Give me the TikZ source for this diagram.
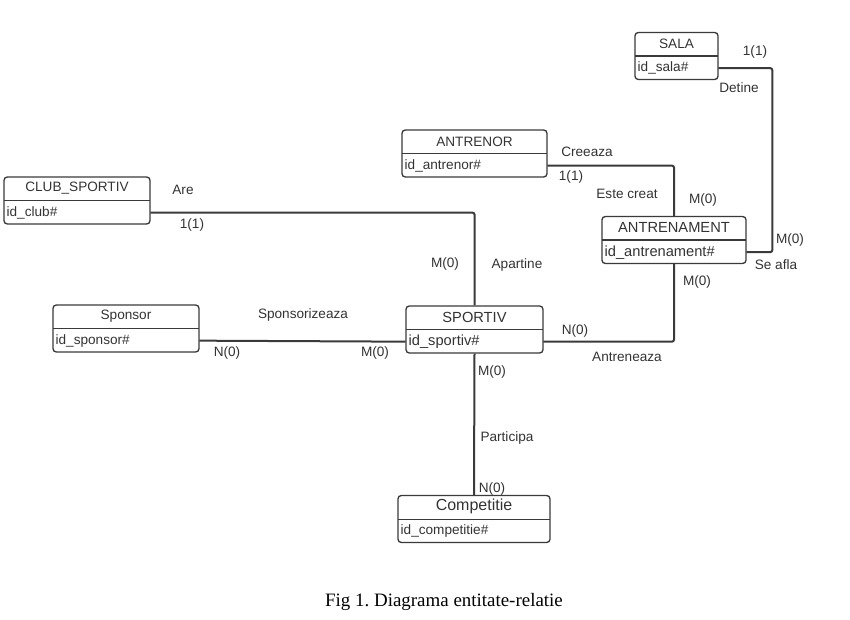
\documentclass[tikz,border=0pt]{standalone}
\usepackage{fontspec}
\setmainfont{Liberation Sans}
\newfontfamily\capfont{Liberation Serif}
\usetikzlibrary{positioning, calc}

\definecolor{inkgray}{HTML}{333333}
\definecolor{linegray}{HTML}{3A3A3A}

\newcommand{\entbig}{\fontsize{11}{13}\selectfont}
\newcommand{\entbigger}{\fontsize{12}{14}\selectfont}

% entity: name, x, y, width (px), title, key
\newcommand{\entity}[6]{%
  \node[entbox, minimum width={#4*0.75pt}] (#1) at (#2,#3) {};
  \node[enttitle, minimum width={#4*0.75pt}, anchor=north] (#1-t) at (#1.north) {#5};
  \node[entkey, text width={#4*0.75pt-4pt}, anchor=south] (#1-k) at (#1.south) {#6};
  \draw[entline] (#1-k.north west) -- (#1-k.north east);
}

\begin{document}
\begin{tikzpicture}[
    x=0.75pt, y=-0.75pt,
    every node/.style={text=inkgray, font=\fontsize{10.2}{12}\selectfont},
    entbox/.style={rectangle, rounded corners=2.5pt, draw=linegray, line width=1pt, minimum height=35.25pt, inner sep=0pt},
    enttitle/.style={minimum height=17.6pt, inner sep=0pt, text centered},
    entkey/.style={minimum height=17.6pt, inner xsep=2pt, inner ysep=0pt, align=left},
    entline/.style={draw=linegray, line width=1pt},
    link/.style={draw=linegray, line width=1.5pt, rounded corners=1.5pt},
    rel/.style={inner sep=1pt, yshift=-1.2pt}
]
\useasboundingbox (0,0) rectangle (850,620);

% Entities
\entity{sala}{676.5}{56}{83}{SALA}{id\_sala\#}
\entity{antrenor}{474.5}{153.5}{145}{ANTRENOR}{id\_antrenor\#}
\entity{club}{77}{200.5}{146}{CLUB\_SPORTIV}{id\_club\#}
\entity{antrenament}{674}{240}{144}{\entbig ANTRENAMENT}{\entbig id\_antrenament\#}
\entity{sponsor}{126}{328.5}{146}{Sponsor}{id\_sponsor\#}
\entity{sportiv}{474.5}{329.5}{137}{\entbig SPORTIV}{\entbig id\_sportiv\#}
\entity{competitie}{474}{519}{152}{\entbigger Competitie}{id\_competitie\#}

% Links
\draw [link] (sala-k.east) -- ++(54,0) |- (antrenament-k.east);
\draw [link] (antrenor-k.east) -| (antrenament.north);
\draw [link] (club-k.east) -| (sportiv.north);
\draw [link] (sponsor-k.east) -- (sportiv-k.west);
\draw [link] (sportiv-k.east) -| (antrenament.south);
\draw [link] (sportiv.south) -- (competitie.north);

% Relation labels
\node (l1) [rel] at (755,50) {1(1)};
\node (l2) [rel] at (739,86) {Detine};
\node (l3) [rel] at (587,150) {Creeaza};
\node (l4) [rel] at (571,175) {1(1)};
\node (l5) [rel] at (627,192) {Este creat};
\node (l6) [rel] at (703,198) {M(0)};
\node (l7) [rel] at (790,238) {M(0)};
\node (l8) [rel] at (776,263) {Se afla};
\node (l9) [rel] at (697,280) {M(0)};
\node (l10) [rel] at (183,188) {Are};
\node (l11) [rel] at (192,223) {1(1)};
\node (l12) [rel] at (445,262) {M(0)};
\node (l13) [rel] at (517,263) {Apartine};
\node (l14) [rel] at (303,313) {Sponsorizeaza};
\node (l15) [rel] at (227,351) {N(0)};
\node (l16) [rel] at (375,351) {M(0)};
\node (l17) [rel] at (575,329) {N(0)};
\node (l18) [rel] at (627,355) {Antreneaza};
\node (l19) [rel] at (492,370) {M(0)};
\node (l20) [rel] at (507,436) {Participa};
\node (l21) [rel] at (492,487) {N(0)};

% Caption
\node (caption) [text=black, font=\capfont\fontsize{14.2}{16}\selectfont, yshift=-1.2pt] at (444,600) {Fig 1.\ Diagrama entitate-relatie};

\end{tikzpicture}
\end{document}
